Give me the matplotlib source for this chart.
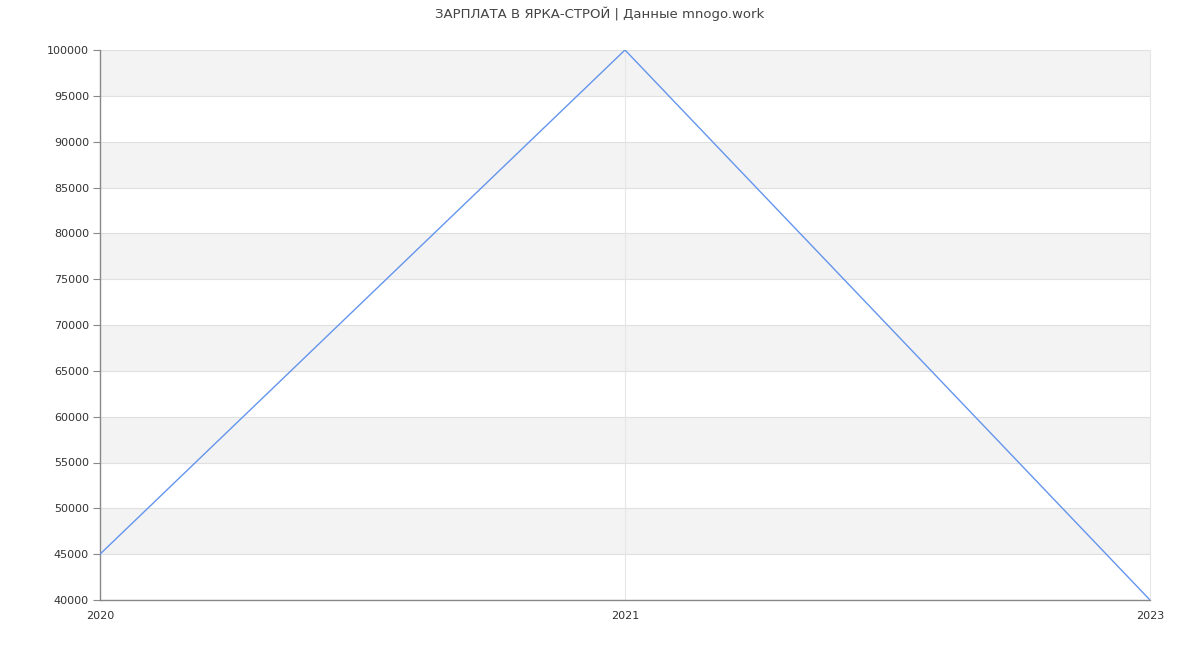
import matplotlib.pyplot as plt

# Data
years = ['2020', '2021', '2023']
salary = [45000, 100000, 40000]
y_ticks = list(range(40000, 100001, 5000))

fig = plt.figure(figsize=(12, 6.5), dpi=100)
ax = fig.add_axes([100 / 1200, 50 / 650, 1050 / 1200, 550 / 650])

x = range(len(years))

# alternating bands
for lo in range(45000, 100000, 10000):
    ax.axhspan(lo, lo + 5000, color='#f3f3f3', zorder=0, lw=0)
for yv in y_ticks:
    ax.axhline(yv, color='#e0e0e0', lw=0.8, zorder=1)
ax.axvline(1, color='#e6e6e6', lw=0.8, zorder=1)

ax.plot(x, salary, color='#6495ed', lw=1, zorder=3)

ax.set_xlim(0, len(years) - 1)
ax.set_ylim(40000, 100000)
ax.set_xticks(list(x))
ax.set_xticklabels(years)
ax.set_yticks(y_ticks)
ax.set_yticklabels([str(v) for v in y_ticks])
ax.tick_params(axis='y', length=5, color='#888888', labelsize=8, labelcolor='#333333', pad=3)
ax.tick_params(axis='x', length=0, labelsize=8, labelcolor='#333333', pad=8)

for side in ['left', 'bottom']:
    ax.spines[side].set_color('#888888')
    ax.spines[side].set_linewidth(1)
ax.spines['top'].set_visible(False)
ax.spines['right'].set_color('#e6e6e6')
ax.spines['right'].set_linewidth(0.8)

fig.text(0.5, 1 - 14 / 650, 'ЗАРПЛАТА В ЯРКА-СТРОЙ | Данные mnogo.work',
         ha='center', va='center', fontsize=9.5, color='#444444')

fig.savefig('out.png', dpi=100)
